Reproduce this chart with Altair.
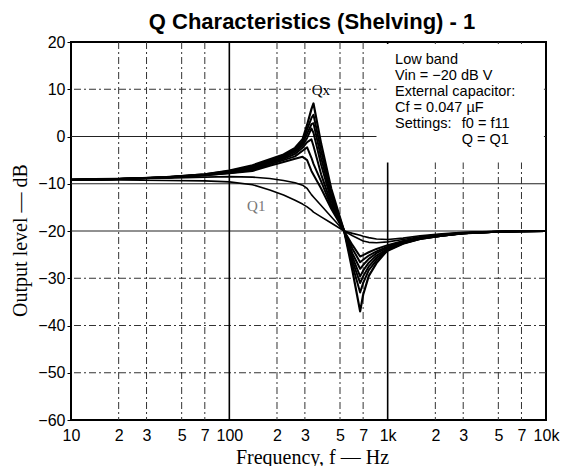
import altair as alt
import pandas as pd

# ---------------- data ----------------
freqs = [10, 20, 40, 70, 100, 140, 180, 220, 260, 290, 310, 330, 340, 380, 440,
         531, 600, 670, 700, 760, 850, 1000, 1250, 1600, 2200, 3000, 4500, 7000, 10000]

q1 = [-9.2, -9.2, -9.3, -9.4, -9.6, -10.2, -11.3, -12.4, -13.5, -14.3, -14.9, -15.6, -16.0, -17.0, -18.3,
      -20.0, -20.5, -20.9, -21.1, -21.4, -21.7, -21.8, -21.5, -21.0, -20.6, -20.3, -20.1, -20.03, -20.0]
q2 = [-9.0, -8.9, -8.8, -8.6, -8.5, -8.6, -8.9, -9.3, -9.8, -10.3, -11.0, -12.3, -12.8, -14.6, -17.0,
      -20.0, -21.0, -21.8, -22.1, -22.4, -22.5, -22.3, -21.8, -21.2, -20.7, -20.4, -20.15, -20.05, -20.0]
q3 = [-9.2, -9.0, -8.7, -8.2, -7.8, -7.3, -6.2, -5.4, -4.7, -4.3, -5.0, -7.3, -8.1, -11.0, -15.3,
      -20.0, -23.0, -25.4, -25.1, -24.5, -23.8, -23.0, -22.1, -21.4, -20.8, -20.4, -20.2, -20.05, -20.0]
q4 = [-9.2, -9.0, -8.7, -8.2, -7.7, -7.1, -5.9, -5.0, -4.2, -3.0, -2.3, -4.5, -5.8, -9.5, -14.8,
      -20.0, -23.8, -26.6, -26.1, -25.2, -24.3, -23.3, -22.3, -21.5, -20.9, -20.45, -20.2, -20.05, -20.0]
q5 = [-9.2, -9.0, -8.7, -8.1, -7.6, -6.9, -5.6, -4.7, -3.7, -2.4, -1.2, -0.6, -2.0, -8.0, -14.2,
      -20.0, -24.8, -28.0, -27.2, -25.9, -24.7, -23.5, -22.4, -21.5, -20.9, -20.5, -20.2, -20.05, -20.0]
q6 = [-9.2, -9.0, -8.7, -8.1, -7.5, -6.7, -5.4, -4.4, -3.3, -1.9, -0.3, 1.7, 0.8, -6.0, -13.5,
      -20.0, -25.6, -29.6, -28.4, -26.7, -25.2, -23.8, -22.5, -21.6, -21.0, -20.5, -20.2, -20.05, -20.0]
q7 = [-9.2, -9.0, -8.6, -8.1, -7.4, -6.5, -5.2, -4.2, -3.0, -1.5, 0.6, 2.6, 2.8, -4.5, -12.8,
      -20.0, -26.4, -31.0, -29.6, -27.5, -25.7, -24.0, -22.6, -21.6, -21.0, -20.5, -20.2, -20.05, -20.0]
q8 = [-9.2, -9.0, -8.6, -8.0, -7.3, -6.3, -5.0, -4.0, -2.7, -1.1, 1.5, 3.9, 4.6, -3.0, -12.0,
      -20.0, -27.3, -33.0, -31.0, -28.3, -26.2, -24.2, -22.7, -21.7, -21.0, -20.5, -20.2, -20.05, -20.0]
q9 = [-9.2, -9.0, -8.6, -8.0, -7.2, -6.1, -4.8, -3.8, -2.4, -0.6, 2.5, 5.8, 7.0, -1.5, -11.0,
      -20.0, -28.5, -37.0, -33.5, -29.5, -26.8, -24.0, -22.6, -21.7, -21.0, -20.5, -20.2, -20.05, -20.0]

curve_names = ["c1", "c2", "c3", "c4", "c5", "c6", "c7", "c8", "c9"]
curve_values = [q1, q2, q3, q4, q5, q6, q7, q8, q9]
curve_widths = [1.6, 1.6, 2, 2, 2, 2, 2, 2, 2.2]

x_tick_values = [10, 20, 30, 50, 70, 100, 200, 300, 500, 700, 1000, 2000, 3000, 5000, 7000, 10000]
x_tick_labels = ["10", "2", "3", "5", "7", "100", "2", "3", "5", "7", "1k", "2", "3", "5", "7", "10k"]
y_tick_values = [-60, -50, -40, -30, -20, -10, 0, 10, 20]

grid_x_solid = [100, 1000]
grid_x_dashed = [20, 30, 50, 70, 200, 300, 500, 700, 2000, 3000, 5000, 7000]
grid_y_solid = [0, -10, -20]
grid_y_dashed = [10, -30, -40, -50]

title_text = ["Q Characteristics (Shelving) - 1"]
note_lines = ["Low band", "Vin = \u221220 dB V", "External capacitor:", "Cf = 0.047 \u00b5F", "Settings:"]
note_db = [15.35, 11.95, 8.55, 5.15, 1.75]
note_right = ["f0 = f11", "Q = Q1"]
note_right_db = [1.75, -1.65]

# ---------------- tables ----------------
rows = []
for name, vals, w in zip(curve_names, curve_values, curve_widths):
    for i, (f, v) in enumerate(zip(freqs, vals)):
        rows.append({"curve": name, "idx": i, "f": f, "db": v, "w": w})
df = pd.DataFrame(rows)

label_expr = ""
for v, l in zip(x_tick_values, x_tick_labels):
    label_expr += f"datum.value=={v}?'{l}':"
label_expr += "''"

x_scale = alt.Scale(type="log", domain=[10, 10000], nice=False)
y_scale = alt.Scale(domain=[-60, 20], nice=False)

sans = "Liberation Sans"
serif = "Liberation Serif"

x_axis = alt.Axis(values=x_tick_values, labelExpr=label_expr, grid=False, domain=False,
                  ticks=False, labelPadding=7, labelFont=sans, labelFontSize=16,
                  labelColor="black", labelFlush=False, labelOverlap=False,
                  title="Frequency, f \u2014 Hz", titleFont=serif, titleFontSize=20,
                  titleFontWeight="normal", titleColor="black", titleX=241, titleY=43,
                  titleBaseline="alphabetic", titleAlign="center")
y_axis = alt.Axis(values=y_tick_values, grid=False, domain=False, ticks=True, tickSize=4,
                  tickColor="black", labelPadding=2, labelFont=sans, labelFontSize=16,
                  labelColor="black", labelFlush=False,
                  title="Output level \u2014 dB", titleFont=serif, titleFontSize=20,
                  titleFontWeight="normal", titleColor="black", titleAngle=-90,
                  titleX=-51, titleY=198, titleAlign="center", titleBaseline="middle")


def X(field):
    return alt.X(field, scale=x_scale, axis=x_axis)


def Y(field):
    return alt.Y(field, scale=y_scale, axis=y_axis)


gx_solid = alt.Chart(pd.DataFrame({"f": grid_x_solid})).mark_rule(color="black", strokeWidth=1.6).encode(
    x=X("f:Q"))
gx_dash = alt.Chart(pd.DataFrame({"f": grid_x_dashed})).mark_rule(
    color="#333", strokeWidth=1, strokeDash=[7, 3, 2, 3]).encode(x=X("f:Q"))
gy_solid = alt.Chart(pd.DataFrame({"db": grid_y_solid})).mark_rule(color="#222", strokeWidth=1).encode(
    y=Y("db:Q"))
gy_dash = alt.Chart(pd.DataFrame({"db": grid_y_dashed})).mark_rule(
    color="#333", strokeWidth=1, strokeDash=[7, 3, 2, 3]).encode(y=Y("db:Q"))

box = alt.Chart(pd.DataFrame({"f": [850], "f2": [9700], "db": [-5.5], "db2": [19.6]})).mark_rect(
    color="white").encode(x=X("f:Q"), x2="f2:Q", y=Y("db:Q"), y2="db2:Q")

lines = alt.Chart(df).mark_line(color="black", strokeJoin="round").encode(
    x=X("f:Q"),
    y=Y("db:Q"),
    detail="curve:N",
    order="idx:Q",
    strokeWidth=alt.StrokeWidth("w:Q", scale=None),
)

notes_df = pd.DataFrame({"f": [1114] * len(note_lines), "db": note_db, "t": note_lines})
notes = alt.Chart(notes_df).mark_text(align="left", baseline="alphabetic", font=sans, fontSize=14.5,
                                      color="black").encode(x=X("f:Q"), y=Y("db:Q"), text="t:N")
notes_r = alt.Chart(pd.DataFrame({"f": [2938] * len(note_right), "db": note_right_db, "t": note_right})).mark_text(
    align="left", baseline="alphabetic", font=sans, fontSize=14.5, color="black").encode(
    x=X("f:Q"), y=Y("db:Q"), text="t:N")

lab1 = alt.Chart(pd.DataFrame({"f": [148], "db": [-15.8], "t": ["Q1"]})).mark_text(
    align="center", baseline="alphabetic", font=serif, fontSize=15, color="#777").encode(
    x=X("f:Q"), y=Y("db:Q"), text="t:N")
labx = alt.Chart(pd.DataFrame({"f": [379], "db": [8.8], "t": ["Qx"]})).mark_text(
    align="center", baseline="alphabetic", font=serif, fontSize=15, color="black").encode(
    x=X("f:Q"), y=Y("db:Q"), text="t:N")

title = alt.Chart(pd.DataFrame({"t": title_text})).mark_text(
    align="center", baseline="alphabetic", font=sans, fontSize=22, fontWeight="bold", color="black").encode(
    x=alt.value(241), y=alt.value(-13), text="t:N")

chart = alt.layer(gx_dash, gy_dash, gy_solid, gx_solid, box, lines, notes, notes_r, lab1, labx, title).properties(
    width=475, height=378,
    autosize=alt.AutoSizeParams(type="none"),
    padding={"left": 63, "top": 34, "right": 15, "bottom": 46},
    background="white",
).configure_view(stroke="black", strokeWidth=2)

chart.save("out.html", embed_options={"renderer": "svg", "actions": False})
